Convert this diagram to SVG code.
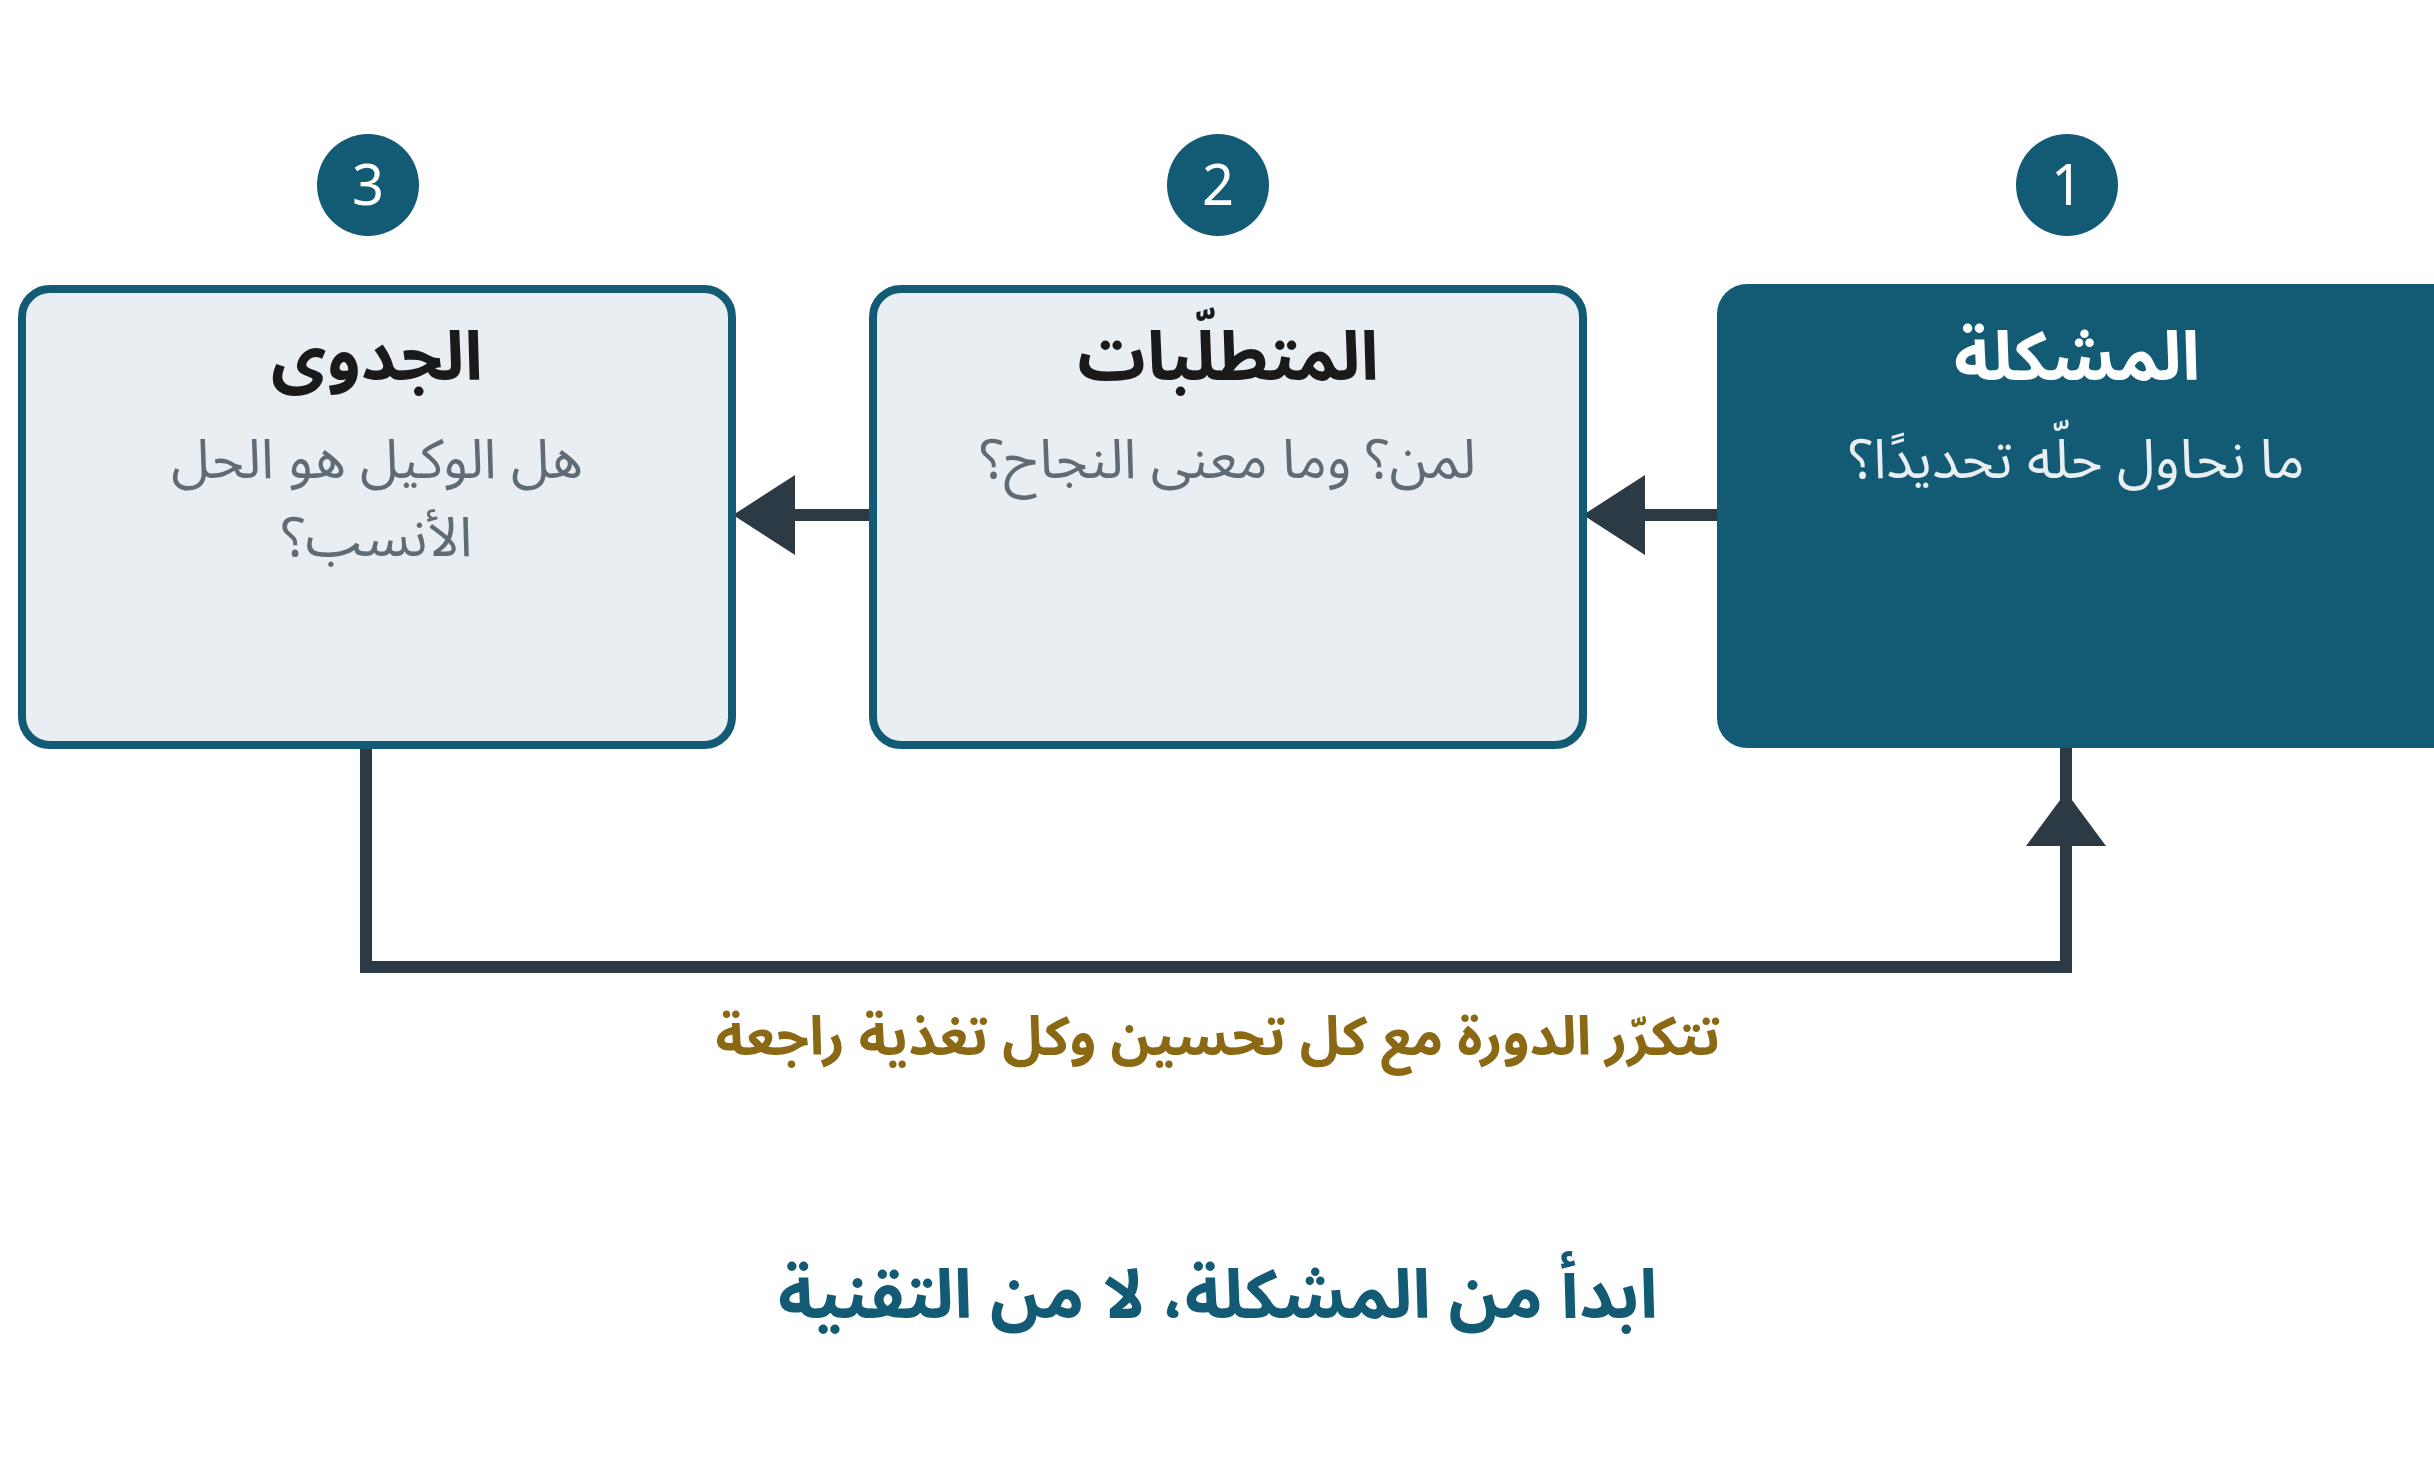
<svg xmlns="http://www.w3.org/2000/svg" width="2434" height="1467" viewBox="0 0 2434 1467">
<style>
text{font-family:"Noto Sans Arabic","Noto Sans","DejaVu Sans",sans-serif;text-anchor:middle;direction:rtl}
.lt{fill:#e8eef2;stroke:#135b75;stroke-width:8}
.ttl{font-size:68px;font-weight:bold;fill:#1a1a1a}
.sub{font-size:55px;fill:#5f6b75}
.num{font-size:56px;fill:#fff}
.con{stroke:#2b3a45;stroke-width:12;fill:none}
</style>
<rect width="2434" height="1467" fill="#fff"/>
<g id="connectors">
<line class="con" x1="1717" y1="515" x2="1640" y2="515"/>
<polygon points="1583,515 1645,475 1645,555" fill="#2b3a45"/>
<line class="con" x1="869" y1="515" x2="790" y2="515"/>
<polygon points="733,515 795,475 795,555" fill="#2b3a45"/>
<polyline class="con" points="366,748 366,967 2066,967 2066,748"/>
<polygon points="2066,792 2026,846 2106,846" fill="#2b3a45"/>
<text x="1218" y="1055" style="font-size:54px;font-weight:bold;fill:#8b6914">تتكرّر الدورة مع كل تحسين وكل تغذية راجعة</text>
</g>
<g id="node1">
<circle cx="2067" cy="185" r="51" fill="#135b75"/>
<text class="num" x="2067" y="205" style="direction:ltr">1</text>
<rect x="1717" y="284" width="760" height="464" rx="30" fill="#135b75"/>
<text class="ttl" x="2077" y="380" style="fill:#fff">المشكلة</text>
<text class="sub" x="2077" y="478" style="fill:#e8eef2">ما نحاول حلّه تحديدًا؟</text>
</g>
<g id="node2">
<circle cx="1218" cy="185" r="51" fill="#135b75"/>
<text class="num" x="1218" y="205" style="direction:ltr">2</text>
<rect class="lt" x="873" y="289" width="710" height="456" rx="28"/>
<text class="ttl" x="1228" y="380">المتطلّبات</text>
<text class="sub" x="1228" y="478">لمن؟ وما معنى النجاح؟</text>
</g>
<g id="node3">
<circle cx="368" cy="185" r="51" fill="#135b75"/>
<text class="num" x="368" y="205" style="direction:ltr">3</text>
<rect class="lt" x="22" y="289" width="710" height="456" rx="28"/>
<text class="ttl" x="377" y="380">الجدوى</text>
<text class="sub" x="377" y="478">هل الوكيل هو الحل</text>
<text class="sub" x="377" y="556">الأنسب؟</text>
</g>
<text x="1218" y="1318" style="font-size:68px;font-weight:bold;fill:#135b75">ابدأ من المشكلة، لا من التقنية</text>
</svg>
